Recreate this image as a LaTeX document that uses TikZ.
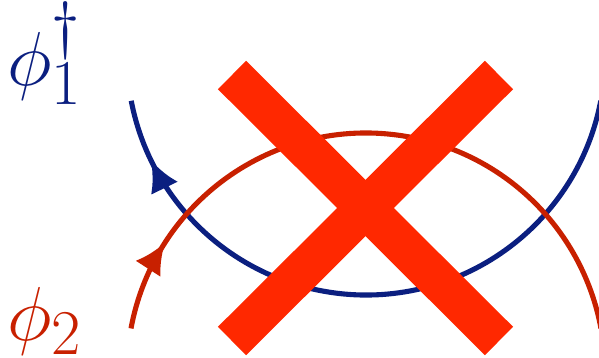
\documentclass[tikz,border=0pt]{standalone}
\usepackage{fix-cm}
\usepackage{xcolor}
\usepackage{tikz}
\usetikzlibrary{arrows.meta,decorations.markings}
\definecolor{LoopBlue}{HTML}{0B1F80}
\definecolor{LoopRed}{HTML}{C82000}
\definecolor{CrossRed}{HTML}{FF2800}

\begin{document}
\begin{tikzpicture}[
    fieldlabel/.style={anchor=base west, inner sep=0pt, font=\Huge, scale=0.875, transform shape},
    loopline/.style={line width=1.45pt},
    midarrow/.style={postaction={decorate}, decoration={markings,
        mark=at position #1 with {\arrow{Latex[length=3.1mm,width=3mm]}}}},
    crossbar/.style={draw=CrossRed, line width=0.4cm}
]
    \useasboundingbox (0,0) rectangle (5.99,3.57);
    \clip (0,0) rectangle (5.99,3.57);

    \coordinate (topc) at (3.66,3.01);
    \coordinate (botc) at (3.66,-0.15);

    % the two loops
    \draw[loopline, color=LoopBlue, midarrow=0.905]
        ([shift={(349.2:2.39)}]topc) arc[start angle=349.2, end angle=190.8, radius=2.39];
    \draw[loopline, color=LoopRed, midarrow=0.14]
        ([shift={(169.5:2.39)}]botc) arc[start angle=169.5, end angle=10.5, radius=2.39];

    \node[fieldlabel, text=LoopBlue] (phione) at (0.07,2.72) {$\phi_1^\dagger$};
    \node[fieldlabel, text=LoopRed] (phitwo) at (0.07,0.17) {$\phi_2$};

    % cross on top
    \coordinate (xtl) at (2.32,2.82);
    \coordinate (xtr) at (4.99,2.82);
    \coordinate (xbl) at (2.32,0.16);
    \coordinate (xbr) at (4.99,0.16);
    \draw[crossbar] (xtl) -- (xbr);
    \draw[crossbar] (xtr) -- (xbl);
\end{tikzpicture}
\end{document}
